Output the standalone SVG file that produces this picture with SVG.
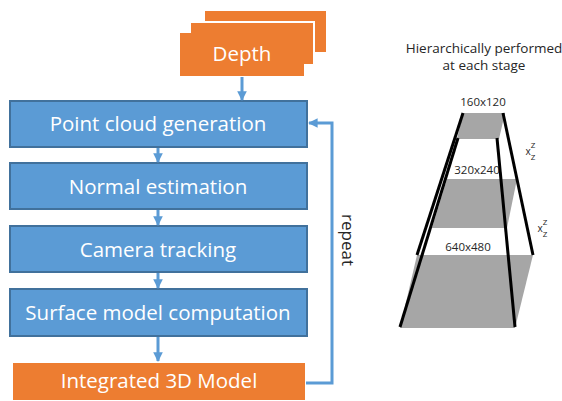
<svg xmlns="http://www.w3.org/2000/svg" width="562" height="401" viewBox="0 0 562 401">
  <defs>
    <marker id="arrow" viewBox="0 0 10 10" refX="9" refY="5" markerWidth="3.2" markerHeight="3.2" orient="auto">
      <path d="M0,0 L10,5 L0,10 z" fill="#5B9BD5"/>
    </marker>
  </defs>
  <style>
    .step { fill: #5B9BD5; stroke: #41719C; stroke-width: 2; }
    .orange { fill: #ED7D31; }
    .stack { fill: #ED7D31; stroke: #ffffff; stroke-width: 2; }
    .label { font-family: "Open Sans", "Noto Sans", sans-serif; font-size: 20.5px; fill: #ffffff; text-anchor: middle; }
    .note { font-family: "Open Sans", "Noto Sans", sans-serif; fill: #262626; text-anchor: middle; }
    .flow { stroke: #5B9BD5; stroke-width: 3; fill: none; marker-end: url(#arrow); }
    .level { fill: #A6A6A6; }
    .edge { stroke: #000000; stroke-width: 3; }
  </style>

  <!-- Depth frames stacked -->
  <g id="depth">
    <rect class="stack" x="204" y="10" width="123" height="43"/>
    <rect class="stack" x="190" y="22" width="124" height="43"/>
    <rect class="orange" x="180" y="33" width="124" height="43"/>
    <text class="label" x="242" y="61">Depth</text>
  </g>

  <g id="point-cloud">
    <rect class="step" x="10" y="101" width="297" height="46"/>
    <text class="label" x="158" y="131">Point cloud generation</text>
  </g>
  <g id="normal">
    <rect class="step" x="10" y="163" width="297" height="46"/>
    <text class="label" x="158" y="194">Normal estimation</text>
  </g>
  <g id="camera">
    <rect class="step" x="10" y="226" width="297" height="46"/>
    <text class="label" x="158" y="257">Camera tracking</text>
  </g>
  <g id="surface">
    <rect class="step" x="10" y="289" width="297" height="47"/>
    <text class="label" x="158" y="320">Surface model computation</text>
  </g>
  <g id="model">
    <rect class="orange" x="13" y="363" width="292" height="37"/>
    <text class="label" x="159" y="388">Integrated 3D Model</text>
  </g>

  <g id="connectors">
    <line class="flow" x1="242" y1="77" x2="242" y2="100"/>
    <line class="flow" x1="158" y1="148" x2="158" y2="162"/>
    <line class="flow" x1="158" y1="210" x2="158" y2="225"/>
    <line class="flow" x1="158" y1="273" x2="158" y2="288"/>
    <line class="flow" x1="158" y1="337" x2="158" y2="361"/>
    <polyline class="flow" points="306,383 332,383 332,123 309,123"/>
  </g>

  <text class="note" font-size="17" transform="translate(342,240) rotate(90)">repeat</text>

  <!-- Resolution pyramid -->
  <g id="pyramid">
    <text class="note" font-size="13.5" x="484" y="53">Hierarchically performed</text>
    <text class="note" font-size="13.5" x="484" y="70">at each stage</text>

    <polygon class="level" points="463,113 505,113 499,139 457,139"/>
    <polygon class="level" points="447,179 517,179 507,228 432,228"/>
    <polygon class="level" points="417,255 533,255 515,328 400,328"/>

    <text class="note" font-size="11.5" x="483" y="106">160x120</text>
    <text class="note" font-size="11.5" x="477" y="174">320x240</text>
    <text class="note" font-size="11.5" x="468" y="251">640x480</text>

    <line class="edge" x1="463" y1="113" x2="417" y2="255"/>
    <line class="edge" x1="458" y1="138" x2="400" y2="327"/>
    <line class="edge" x1="503" y1="113" x2="533" y2="255"/>
    <line class="edge" x1="497" y1="138" x2="515" y2="327"/>

    <text class="note" font-size="10" x="528" y="155">x</text>
    <text class="note" font-size="8" x="533" y="148">Z</text>
    <text class="note" font-size="8" x="533" y="160">Z</text>
    <text class="note" font-size="10" x="540" y="232">x</text>
    <text class="note" font-size="8" x="545" y="225">Z</text>
    <text class="note" font-size="8" x="545" y="237">Z</text>
  </g>
</svg>
